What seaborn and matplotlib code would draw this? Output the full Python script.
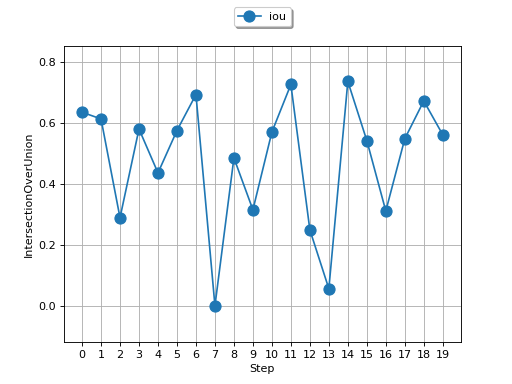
import pandas as pd
import matplotlib
matplotlib.use("Agg")
import matplotlib.pyplot as plt
import seaborn as sns

steps = list(range(20))
iou = [0.635, 0.613, 0.289, 0.580, 0.436, 0.575, 0.693, 0.000, 0.485, 0.315,
       0.570, 0.726, 0.249, 0.056, 0.736, 0.542, 0.311, 0.548, 0.672, 0.561]

df = pd.DataFrame({"Step": steps, "IntersectionOverUnion": iou})

fig, ax = plt.subplots(figsize=(6.4, 4.8), dpi=80)
sns.lineplot(data=df, x="Step", y="IntersectionOverUnion", marker="o",
             markersize=10, markeredgewidth=1, markeredgecolor="#1f77b4",
             color="#1f77b4", label="iou", ax=ax)
ax.set_xticks(steps)
ax.set_ylim(-0.118, 0.852)
ax.grid(True)
ax.legend(loc="upper center", bbox_to_anchor=(0.5, 1.15), shadow=True, fancybox=True)

plt.savefig("out.png", dpi=80)
